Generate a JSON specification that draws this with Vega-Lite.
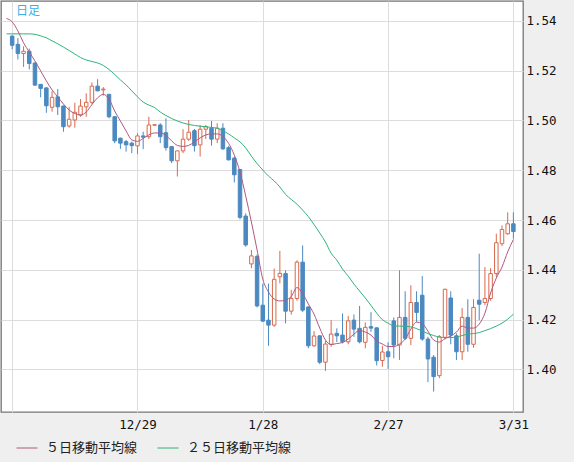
{
  "$schema": "https://vega.github.io/schema/vega-lite/v6.json",
  "width": 522,
  "height": 411,
  "autosize": {"type": "none"},
  "padding": {"left": 1, "top": 1, "right": 51, "bottom": 50},
  "background": "#efefef",
  "title": {"text": "日足", "anchor": "start", "frame": "group", "orient": "top", "offset": -17, "dx": 15, "color": "#3aaee6", "font": "Noto Sans CJK JP", "fontSize": 12, "fontWeight": "normal"},
  "config": {
    "view": {"fill": "#ffffff", "stroke": "#777777", "strokeWidth": 1.3}
  },
  "data": {"values": [
    {"i":-1,"d":"11/26","ma5":1.5410,"ma25":1.5348},
    {"i":0,"d":"11/27","o":1.5339,"h":1.5342,"l":1.5286,"c":1.5302,"ma5":1.5396,"ma25":1.5348},
    {"i":1,"d":"11/28","o":1.5306,"h":1.5331,"l":1.5245,"c":1.5269,"ma5":1.5360,"ma25":1.5348},
    {"i":2,"d":"12/1","o":1.5269,"h":1.5298,"l":1.5215,"c":1.5278,"ma5":1.5312,"ma25":1.5348},
    {"i":3,"d":"12/2","o":1.5278,"h":1.5289,"l":1.5205,"c":1.5229,"ma5":1.5275,"ma25":1.5348},
    {"i":4,"d":"12/3","o":1.5231,"h":1.5233,"l":1.5140,"c":1.5142,"ma5":1.5239,"ma25":1.5346},
    {"i":5,"d":"12/4","o":1.5145,"h":1.5147,"l":1.5093,"c":1.5129,"ma5":1.5199,"ma25":1.5340},
    {"i":6,"d":"12/5","o":1.5131,"h":1.5133,"l":1.5031,"c":1.5059,"ma5":1.5159,"ma25":1.5332},
    {"i":7,"d":"12/8","o":1.5053,"h":1.5118,"l":1.5035,"c":1.5093,"ma5":1.5123,"ma25":1.5320},
    {"i":8,"d":"12/9","o":1.5095,"h":1.5126,"l":1.5022,"c":1.5055,"ma5":1.5095,"ma25":1.5308},
    {"i":9,"d":"12/10","o":1.5058,"h":1.5060,"l":1.4955,"c":1.4975,"ma5":1.5066,"ma25":1.5295},
    {"i":10,"d":"12/11","o":1.4978,"h":1.5055,"l":1.4971,"c":1.5005,"ma5":1.5042,"ma25":1.5281},
    {"i":11,"d":"12/12","o":1.5002,"h":1.5071,"l":1.4971,"c":1.5033,"ma5":1.5028,"ma25":1.5267},
    {"i":12,"d":"12/15","o":1.5022,"h":1.5086,"l":1.5015,"c":1.5058,"ma5":1.5022,"ma25":1.5253},
    {"i":13,"d":"12/16","o":1.5055,"h":1.5109,"l":1.5015,"c":1.5073,"ma5":1.5034,"ma25":1.5243},
    {"i":14,"d":"12/17","o":1.5073,"h":1.5153,"l":1.5065,"c":1.5138,"ma5":1.5064,"ma25":1.5237},
    {"i":15,"d":"12/18","o":1.5138,"h":1.5166,"l":1.5118,"c":1.5119,"ma5":1.5091,"ma25":1.5231},
    {"i":16,"d":"12/19","o":1.5123,"h":1.5134,"l":1.5100,"c":1.5126,"ma5":1.5105,"ma25":1.5221},
    {"i":17,"d":"12/22","o":1.5105,"h":1.5107,"l":1.5009,"c":1.5015,"ma5":1.5086,"ma25":1.5205},
    {"i":18,"d":"12/23","o":1.5015,"h":1.5017,"l":1.4909,"c":1.4918,"ma5":1.5038,"ma25":1.5185},
    {"i":19,"d":"12/24","o":1.4929,"h":1.4931,"l":1.4886,"c":1.4909,"ma5":1.4998,"ma25":1.5163},
    {"i":20,"d":"12/25","o":1.4915,"h":1.4922,"l":1.4875,"c":1.4902,"ma5":1.4958,"ma25":1.5143},
    {"i":21,"d":"12/26","o":1.4909,"h":1.4915,"l":1.4869,"c":1.4899,"ma5":1.4922,"ma25":1.5119},
    {"i":22,"d":"12/29","o":1.4898,"h":1.4949,"l":1.4865,"c":1.4938,"ma5":1.4916,"ma25":1.5095},
    {"i":23,"d":"12/30","o":1.4938,"h":1.4955,"l":1.4885,"c":1.4933,"ma5":1.4928,"ma25":1.5074},
    {"i":24,"d":"12/31","o":1.4935,"h":1.5015,"l":1.4925,"c":1.4982,"ma5":1.4942,"ma25":1.5062},
    {"i":25,"d":"1/1","o":1.4981,"h":1.4984,"l":1.4980,"c":1.4983,"ma5":1.4950,"ma25":1.5052},
    {"i":26,"d":"1/2","o":1.4982,"h":1.4989,"l":1.4909,"c":1.4935,"ma5":1.4950,"ma25":1.5034},
    {"i":27,"d":"1/5","o":1.4951,"h":1.5009,"l":1.4879,"c":1.4891,"ma5":1.4940,"ma25":1.5020},
    {"i":28,"d":"1/6","o":1.4895,"h":1.4897,"l":1.4829,"c":1.4838,"ma5":1.4918,"ma25":1.5008},
    {"i":29,"d":"1/7","o":1.4838,"h":1.4880,"l":1.4775,"c":1.4878,"ma5":1.4900,"ma25":1.4998},
    {"i":30,"d":"1/8","o":1.4878,"h":1.4965,"l":1.4869,"c":1.4925,"ma5":1.4896,"ma25":1.4990},
    {"i":31,"d":"1/9","o":1.4925,"h":1.5002,"l":1.4918,"c":1.4953,"ma5":1.4900,"ma25":1.4984},
    {"i":32,"d":"1/12","o":1.4959,"h":1.4966,"l":1.4875,"c":1.4899,"ma5":1.4914,"ma25":1.4980},
    {"i":33,"d":"1/13","o":1.4902,"h":1.4982,"l":1.4855,"c":1.4965,"ma5":1.4930,"ma25":1.4977},
    {"i":34,"d":"1/14","o":1.4965,"h":1.4982,"l":1.4925,"c":1.4975,"ma5":1.4942,"ma25":1.4975},
    {"i":35,"d":"1/15","o":1.4969,"h":1.4998,"l":1.4899,"c":1.4925,"ma5":1.4946,"ma25":1.4972},
    {"i":36,"d":"1/16","o":1.4925,"h":1.4989,"l":1.4909,"c":1.4969,"ma5":1.4946,"ma25":1.4969},
    {"i":37,"d":"1/19","o":1.4969,"h":1.4989,"l":1.4882,"c":1.4886,"ma5":1.4936,"ma25":1.4958},
    {"i":38,"d":"1/20","o":1.4891,"h":1.4898,"l":1.4839,"c":1.4842,"ma5":1.4908,"ma25":1.4946},
    {"i":39,"d":"1/21","o":1.4849,"h":1.4855,"l":1.4751,"c":1.4782,"ma5":1.4861,"ma25":1.4930},
    {"i":40,"d":"1/22","o":1.4803,"h":1.4805,"l":1.4603,"c":1.4611,"ma5":1.4793,"ma25":1.4914},
    {"i":41,"d":"1/23","o":1.4616,"h":1.4627,"l":1.4493,"c":1.4500,"ma5":1.4697,"ma25":1.4890},
    {"i":42,"d":"1/26","o":1.4424,"h":1.4480,"l":1.4407,"c":1.4456,"ma5":1.4592,"ma25":1.4857},
    {"i":43,"d":"1/27","o":1.4454,"h":1.4462,"l":1.4249,"c":1.4255,"ma5":1.4480,"ma25":1.4827},
    {"i":44,"d":"1/28","o":1.4258,"h":1.4345,"l":1.4191,"c":1.4194,"ma5":1.4363,"ma25":1.4801},
    {"i":45,"d":"1/29","o":1.4198,"h":1.4345,"l":1.4095,"c":1.4178,"ma5":1.4311,"ma25":1.4777},
    {"i":46,"d":"1/30","o":1.4178,"h":1.4405,"l":1.4171,"c":1.4362,"ma5":1.4283,"ma25":1.4757},
    {"i":47,"d":"2/2","o":1.4372,"h":1.4476,"l":1.4346,"c":1.4386,"ma5":1.4275,"ma25":1.4733},
    {"i":48,"d":"2/3","o":1.4385,"h":1.4398,"l":1.4185,"c":1.4234,"ma5":1.4279,"ma25":1.4703},
    {"i":49,"d":"2/4","o":1.4234,"h":1.4320,"l":1.4220,"c":1.4285,"ma5":1.4293,"ma25":1.4683},
    {"i":50,"d":"2/5","o":1.4285,"h":1.4438,"l":1.4276,"c":1.4431,"ma5":1.4329,"ma25":1.4664},
    {"i":51,"d":"2/6","o":1.4431,"h":1.4498,"l":1.4231,"c":1.4238,"ma5":1.4305,"ma25":1.4640},
    {"i":52,"d":"2/9","o":1.4251,"h":1.4253,"l":1.4085,"c":1.4095,"ma5":1.4263,"ma25":1.4614},
    {"i":53,"d":"2/10","o":1.4095,"h":1.4154,"l":1.4091,"c":1.4134,"ma5":1.4222,"ma25":1.4582},
    {"i":54,"d":"2/11","o":1.4135,"h":1.4137,"l":1.4021,"c":1.4029,"ma5":1.4166,"ma25":1.4548},
    {"i":55,"d":"2/12","o":1.4029,"h":1.4114,"l":1.3994,"c":1.4102,"ma5":1.4118,"ma25":1.4512},
    {"i":56,"d":"2/13","o":1.4101,"h":1.4198,"l":1.4091,"c":1.4142,"ma5":1.4100,"ma25":1.4467},
    {"i":57,"d":"2/16","o":1.4145,"h":1.4165,"l":1.4110,"c":1.4135,"ma5":1.4104,"ma25":1.4439},
    {"i":58,"d":"2/17","o":1.4138,"h":1.4225,"l":1.4105,"c":1.4111,"ma5":1.4108,"ma25":1.4403},
    {"i":59,"d":"2/18","o":1.4111,"h":1.4215,"l":1.4101,"c":1.4195,"ma5":1.4122,"ma25":1.4375},
    {"i":60,"d":"2/19","o":1.4198,"h":1.4221,"l":1.4131,"c":1.4162,"ma5":1.4142,"ma25":1.4343},
    {"i":61,"d":"2/20","o":1.4165,"h":1.4255,"l":1.4105,"c":1.4111,"ma5":1.4156,"ma25":1.4315},
    {"i":62,"d":"2/23","o":1.4109,"h":1.4189,"l":1.4085,"c":1.4169,"ma5":1.4150,"ma25":1.4287},
    {"i":63,"d":"2/24","o":1.4172,"h":1.4230,"l":1.4151,"c":1.4166,"ma5":1.4138,"ma25":1.4257},
    {"i":64,"d":"2/25","o":1.4167,"h":1.4169,"l":1.4016,"c":1.4035,"ma5":1.4114,"ma25":1.4226},
    {"i":65,"d":"2/26","o":1.4036,"h":1.4095,"l":1.4011,"c":1.4070,"ma5":1.4102,"ma25":1.4200},
    {"i":66,"d":"2/27","o":1.4071,"h":1.4109,"l":1.4002,"c":1.4051,"ma5":1.4092,"ma25":1.4186},
    {"i":67,"d":"3/2","o":1.4195,"h":1.4209,"l":1.4045,"c":1.4098,"ma5":1.4092,"ma25":1.4175},
    {"i":68,"d":"3/3","o":1.4098,"h":1.4398,"l":1.4038,"c":1.4209,"ma5":1.4102,"ma25":1.4174},
    {"i":69,"d":"3/4","o":1.4209,"h":1.4314,"l":1.4118,"c":1.4125,"ma5":1.4122,"ma25":1.4173},
    {"i":70,"d":"3/5","o":1.4125,"h":1.4338,"l":1.4098,"c":1.4269,"ma5":1.4162,"ma25":1.4171},
    {"i":71,"d":"3/6","o":1.4269,"h":1.4314,"l":1.4191,"c":1.4229,"ma5":1.4190,"ma25":1.4164},
    {"i":72,"d":"3/9","o":1.4298,"h":1.4375,"l":1.4115,"c":1.4122,"ma5":1.4184,"ma25":1.4154},
    {"i":73,"d":"3/10","o":1.4122,"h":1.4131,"l":1.3949,"c":1.4042,"ma5":1.4154,"ma25":1.4144},
    {"i":74,"d":"3/11","o":1.4049,"h":1.4058,"l":1.3911,"c":1.3971,"ma5":1.4118,"ma25":1.4136},
    {"i":75,"d":"3/12","o":1.3975,"h":1.4138,"l":1.3965,"c":1.4131,"ma5":1.4110,"ma25":1.4130},
    {"i":76,"d":"3/13","o":1.4129,"h":1.4324,"l":1.4121,"c":1.4322,"ma5":1.4124,"ma25":1.4128},
    {"i":77,"d":"3/16","o":1.4287,"h":1.4314,"l":1.4101,"c":1.4138,"ma5":1.4134,"ma25":1.4128},
    {"i":78,"d":"3/17","o":1.4135,"h":1.4145,"l":1.4038,"c":1.4071,"ma5":1.4150,"ma25":1.4130},
    {"i":79,"d":"3/18","o":1.4071,"h":1.4247,"l":1.4038,"c":1.4209,"ma5":1.4174,"ma25":1.4136},
    {"i":80,"d":"3/19","o":1.4209,"h":1.4282,"l":1.4071,"c":1.4101,"ma5":1.4166,"ma25":1.4142},
    {"i":81,"d":"3/20","o":1.4101,"h":1.4282,"l":1.4087,"c":1.4249,"ma5":1.4166,"ma25":1.4144},
    {"i":82,"d":"3/23","o":1.4278,"h":1.4465,"l":1.4198,"c":1.4262,"ma5":1.4182,"ma25":1.4148},
    {"i":83,"d":"3/24","o":1.4269,"h":1.4411,"l":1.4258,"c":1.4285,"ma5":1.4226,"ma25":1.4156},
    {"i":84,"d":"3/25","o":1.4285,"h":1.4407,"l":1.4276,"c":1.4385,"ma5":1.4307,"ma25":1.4164},
    {"i":85,"d":"3/26","o":1.4385,"h":1.4545,"l":1.4371,"c":1.4509,"ma5":1.4367,"ma25":1.4174},
    {"i":86,"d":"3/27","o":1.4505,"h":1.4578,"l":1.4496,"c":1.4562,"ma5":1.4411,"ma25":1.4186},
    {"i":87,"d":"3/30","o":1.4545,"h":1.4631,"l":1.4541,"c":1.4585,"ma5":1.4472,"ma25":1.4202},
    {"i":88,"d":"3/31","o":1.4585,"h":1.4631,"l":1.4525,"c":1.4554,"ma5":1.4522,"ma25":1.4222}
  ]},
  "encoding": {
    "x": {
      "field": "i", "type": "quantitative",
      "scale": {"domain": [-1.085, 88.81], "nice": false, "zero": false},
      "axis": {
        "values": [0, 22, 44, 66, 88],
        "labelExpr": "datum.value == 22 ? '12/29' : datum.value == 44 ? '1/28' : datum.value == 66 ? '2/27' : datum.value == 88 ? '3/31' : ''",
        "title": null, "ticks": false, "domain": false, "grid": true,
        "gridColor": "#dddddd", "gridWidth": 1,
        "labelFont": "DejaVu Sans Mono", "labelFontSize": 12.5, "labelColor": "#111111",
        "labelPadding": 6, "labelFlush": false, "labelOverlap": false, "labelBound": false
      }
    }
  },
  "layer": [
    {
      "mark": {"type": "rule", "strokeWidth": 1, "clip": true},
      "encoding": {
        "y": {"field": "l", "type": "quantitative",
          "scale": {"domain": [1.3829, 1.548], "nice": false, "zero": false},
          "axis": {"orient": "right", "values": [1.4, 1.42, 1.44, 1.46, 1.48, 1.5, 1.52, 1.54], "format": ".2f", "title": null, "ticks": false, "domain": false, "grid": true, "gridColor": "#dddddd", "gridWidth": 1, "labelFont": "DejaVu Sans Mono", "labelFontSize": 12.5, "labelColor": "#111111", "labelPadding": 3, "labelBaseline": "middle"}},
        "y2": {"field": "h"},
        "color": {"condition": {"test": "datum.c >= datum.o", "value": "#d8694c"}, "value": "#4b89c1"}
      }
    },
    {
      "mark": {"type": "bar", "size": 3.5, "strokeWidth": 1, "clip": true},
      "encoding": {
        "y": {"field": "o", "type": "quantitative",
          "scale": {"domain": [1.3829, 1.548], "nice": false, "zero": false},
          "axis": {"orient": "right", "values": [1.4, 1.42, 1.44, 1.46, 1.48, 1.5, 1.52, 1.54], "format": ".2f", "title": null, "ticks": false, "domain": false, "grid": true, "gridColor": "#dddddd", "gridWidth": 1, "labelFont": "DejaVu Sans Mono", "labelFontSize": 12.5, "labelColor": "#111111", "labelPadding": 3, "labelBaseline": "middle"}},
        "y2": {"field": "c"},
        "fill": {"condition": {"test": "datum.c >= datum.o", "value": "#ffffff"}, "value": "#4b89c1"},
        "stroke": {"condition": {"test": "datum.c >= datum.o", "value": "#d8694c"}, "value": "#4b89c1"}
      }
    },
    {
      "mark": {"type": "line", "strokeWidth": 1, "interpolate": "monotone", "clip": true},
      "encoding": {
        "y": {"field": "ma5", "type": "quantitative",
          "scale": {"domain": [1.3829, 1.548], "nice": false, "zero": false},
          "axis": {"orient": "right", "values": [1.4, 1.42, 1.44, 1.46, 1.48, 1.5, 1.52, 1.54], "format": ".2f", "title": null, "ticks": false, "domain": false, "grid": true, "gridColor": "#dddddd", "gridWidth": 1, "labelFont": "DejaVu Sans Mono", "labelFontSize": 12.5, "labelColor": "#111111", "labelPadding": 3, "labelBaseline": "middle"}},
        "color": {
          "datum": "５日移動平均線", "type": "nominal",
          "scale": {"domain": ["５日移動平均線", "２５日移動平均線"], "range": ["#b0587f", "#2db37a"]},
          "legend": {"orient": "none", "legendX": 15, "legendY": 436, "direction": "horizontal", "title": null, "symbolType": "stroke", "symbolSize": 441, "symbolStrokeWidth": 1, "labelFont": "Noto Sans CJK JP", "labelFontSize": 13, "labelColor": "#222222", "labelOffset": 8, "columnPadding": 17}
        }
      }
    },
    {
      "mark": {"type": "line", "strokeWidth": 1, "interpolate": "monotone", "clip": true},
      "encoding": {
        "y": {"field": "ma25", "type": "quantitative",
          "scale": {"domain": [1.3829, 1.548], "nice": false, "zero": false},
          "axis": {"orient": "right", "values": [1.4, 1.42, 1.44, 1.46, 1.48, 1.5, 1.52, 1.54], "format": ".2f", "title": null, "ticks": false, "domain": false, "grid": true, "gridColor": "#dddddd", "gridWidth": 1, "labelFont": "DejaVu Sans Mono", "labelFontSize": 12.5, "labelColor": "#111111", "labelPadding": 3, "labelBaseline": "middle"}},
        "color": {"datum": "２５日移動平均線", "type": "nominal"}
      }
    }
  ]
}
